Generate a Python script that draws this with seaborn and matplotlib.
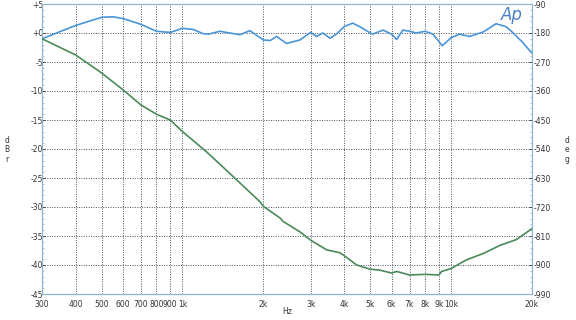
import numpy as np
import pandas as pd
import matplotlib
matplotlib.use("Agg")
import matplotlib.pyplot as plt
import seaborn as sns
from matplotlib.ticker import FixedLocator, MultipleLocator, NullFormatter

# ---- data ----
amp_freq = [300, 400, 500, 550, 600, 700, 800, 900, 1000, 1100, 1190, 1250, 1377, 1500, 1636,
            1783, 2000, 2120, 2240, 2440, 2736, 3000, 3160, 3330, 3540, 3740, 4000, 4300,
            4570, 5000, 5100, 5580, 6000, 6270, 6610, 7000, 7410, 8000, 8560, 9270, 10000,
            10750, 11720, 13200, 14700, 16000, 16940, 18440, 20000]
amp_db = [-1.0, 1.3, 2.7, 2.8, 2.5, 1.5, 0.3, 0.1, 0.8, 0.6, -0.1, -0.2, 0.3, 0.0, -0.3,
          0.4, -1.2, -1.3, -0.6, -1.8, -1.2, 0.1, -0.6, 0.0, -0.9, -0.2, 1.1, 1.7,
          1.1, 0.0, -0.2, 0.5, -0.2, -1.1, 0.5, 0.3, 0.0, 0.3, -0.2, -2.2, -0.8,
          -0.2, -0.6, 0.2, 1.6, 1.1, 0.1, -1.6, -3.5]

ph_freq = [300, 400, 500, 600, 700, 800, 900, 1000, 1230, 1546, 1944, 2000, 2307, 2372,
           2736, 3000, 3440, 3856, 4000, 4450, 5000, 5430, 6000, 6270, 7000, 8000, 9000,
           9220, 10000, 11400, 13200, 15200, 17500, 20000]
ph_deg = [-198, -248, -304, -356, -403, -432, -450, -486, -549, -626, -704, -718, -754, -765,
          -797, -823, -853, -862, -871, -900, -913, -916, -925, -920, -931, -929, -931,
          -920, -911, -884, -864, -839, -821, -787]

x_ticks = [300, 400, 500, 600, 700, 800, 900, 1000, 2000, 3000, 4000, 5000, 6000, 7000,
           8000, 9000, 10000, 20000]
x_labels = ["300", "400", "500", "600", "700", "800", "900", "1k", "2k", "3k", "4k", "5k",
            "6k", "7k", "8k", "9k", "10k", "20k"]
l_ticks = [5, 0, -5, -10, -15, -20, -25, -30, -35, -40, -45]
l_labels = ["+5", "+0", "-5", "-10", "-15", "-20", "-25", "-30", "-35", "-40", "-45"]
r_ticks = [-90, -180, -270, -360, -450, -540, -630, -720, -810, -900, -990]

amp = pd.DataFrame({"freq": amp_freq, "db": amp_db})
ph = pd.DataFrame({"freq": ph_freq, "deg": ph_deg})

sns.set_style("white")
plt.rcParams["font.family"] = ["DejaVu Sans"]

fig = plt.figure(figsize=(5.76, 3.2), dpi=100)
ax = fig.add_axes([42 / 576, 1 - 294 / 320, 490 / 576, 290 / 320])
ax2 = ax.twinx()

blue = "#4a95d8"
green = "#4a8a5a"
grid_c = "#46505e"

sns.lineplot(data=amp, x="freq", y="db", ax=ax, color=blue, lw=1.2, zorder=3)
sns.lineplot(data=ph, x="freq", y="deg", ax=ax2, color=green, lw=1.2, zorder=3)

ax.set_xscale("log")
ax.set_xlim(300, 20000)
ax.set_ylim(-45, 5)
ax2.set_ylim(-990, -90)

ax.xaxis.set_major_locator(FixedLocator(x_ticks))
ax.xaxis.set_minor_locator(FixedLocator([]))
ax.xaxis.set_minor_formatter(NullFormatter())
ax.set_xticklabels(x_labels)
ax.set_yticks(l_ticks)
ax.set_yticklabels(l_labels)
ax.yaxis.set_minor_locator(MultipleLocator(1))
ax2.set_yticks(r_ticks)
ax2.set_yticklabels([str(t) for t in r_ticks])
ax2.yaxis.set_minor_locator(MultipleLocator(18))

ax.grid(True, which="major", color=grid_c, ls=(0, (1, 1.5)), lw=0.7)
ax2.grid(False)

for a in (ax, ax2):
    a.tick_params(axis="both", which="major", labelsize=5.5, length=2.5, width=0.6,
                  colors="#333333", pad=1.5)
    a.tick_params(axis="y", which="minor", length=1.5, width=0.5, colors="#7fb0d0")
    for s in a.spines.values():
        s.set_color("#8fb4d0")
        s.set_linewidth(0.8)
        s.set_linestyle((0, (1, 1)))
ax.tick_params(axis="y", which="both", direction="in")
ax2.tick_params(axis="y", which="both", direction="in")
ax.tick_params(axis="y", which="major", pad=-1)
ax.spines["bottom"].set_linestyle("-")
ax.spines["bottom"].set_color("#9aaab8")

ax.set_xlabel("")
ax.set_ylabel("")
ax2.set_ylabel("")

fig.text(287 / 576, 1 - 312 / 320, "Hz", fontsize=5.5, ha="center", va="center",
         color="#333333")
fig.text(7 / 576, 1 - 150 / 320, "d\nB\nr", fontsize=5.5, ha="center", va="center",
         linespacing=1.1, color="#333333")
fig.text(567 / 576, 1 - 150 / 320, "d\ne\ng", fontsize=5.5, ha="center", va="center",
         linespacing=1.1, color="#333333")
fig.text(512 / 576, 1 - 15 / 320, "Ap", fontsize=12, style="italic", color="#4a80c8",
         ha="center", va="center")

fig.savefig("out.png", dpi=100)
